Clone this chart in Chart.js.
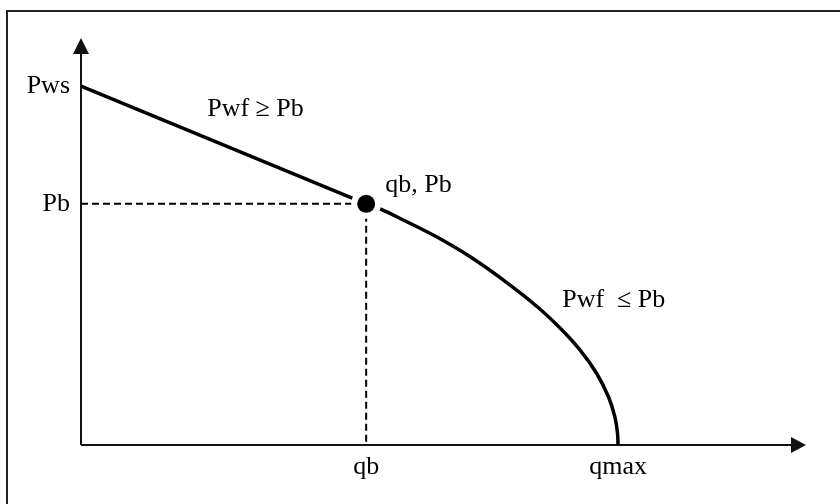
<!DOCTYPE html>
<html>
<head>
<meta charset="utf-8">
<script src="https://cdn.jsdelivr.net/npm/chart.js@4.4.1/dist/chart.umd.min.js"></script>
<style>
  html, body { margin: 0; padding: 0; background: #fff; }
  #wrap { position: relative; width: 840px; height: 504px; overflow: hidden; }
  #frame { position: absolute; left: 6px; top: 10px; width: 900px; height: 600px;
           border-left: 2px solid #222; border-top: 2px solid #222; }
  #iprChart { position: absolute; left: 0; top: 0; }
</style>
</head>
<body>
<div id="wrap">
  <div id="frame"></div>
  <canvas id="iprChart" width="840" height="504"></canvas>
</div>
<script>
// valores (q en % de qmax, presion en % de Pws)
const PWS = 100;
const PB = 67.2;
const QB = 53.1;
const QMAX = 100;

const curveQ = [QB, 55.7, 60.0, 66.2, 72.4, 78.6, 84.9, 89.2, 92.9, 96.0, 98.2, 99.4, 99.9, QMAX];
const curveP = [PB, 65.8, 62.7, 58.0, 52.5, 46.0, 38.6, 32.6, 26.5, 20.0, 13.5, 7.9, 3.3, 0];

const yTickValues = [PWS, PB];
const yTickLabels = ["Pws", "Pb"];
const xTickValues = [QB, QMAX];
const xTickLabels = ["qb", "qmax"];

const textos = ["Pwf \u2265 Pb", "qb, Pb", "Pwf  \u2264 Pb"];

const FONT = "Liberation Serif";
const FONT_SIZE = 26;

const curva = curveQ.map(function (q, i) { return { x: q, y: curveP[i] }; });

const ejesConFlechas = {
    id: "ejesConFlechas",
    afterDatasetsDraw: function (chart) {
        const ctx = chart.ctx;
        const a = chart.chartArea;
        ctx.save();
        ctx.strokeStyle = "#111";
        ctx.fillStyle = "#111";
        ctx.lineWidth = 2;
        ctx.beginPath();
        ctx.moveTo(a.left, a.bottom);
        ctx.lineTo(a.left, a.top + 12);
        ctx.moveTo(a.left, a.bottom);
        ctx.lineTo(a.right - 12, a.bottom);
        ctx.stroke();
        // flecha vertical
        ctx.beginPath();
        ctx.moveTo(a.left, a.top);
        ctx.lineTo(a.left - 8, a.top + 16);
        ctx.lineTo(a.left + 8, a.top + 16);
        ctx.closePath();
        ctx.fill();
        // flecha horizontal
        ctx.beginPath();
        ctx.moveTo(a.right, a.bottom);
        ctx.lineTo(a.right - 15, a.bottom - 8);
        ctx.lineTo(a.right - 15, a.bottom + 8);
        ctx.closePath();
        ctx.fill();

        // textos sobre el grafico
        const xs = chart.scales.x, ys = chart.scales.y;
        ctx.font = FONT_SIZE + "px '" + FONT + "'";
        ctx.textAlign = "left";
        ctx.textBaseline = "alphabetic";
        ctx.fillStyle = "#000";
        ctx.fillText(textos[0], xs.getPixelForValue(23.5), ys.getPixelForValue(91.6));
        ctx.fillText(textos[1], xs.getPixelForValue(QB) + 19, ys.getPixelForValue(PB) - 12);
        ctx.fillText(textos[2], xs.getPixelForValue(89.6), ys.getPixelForValue(38.4));
        ctx.restore();
    }
};

new Chart(document.getElementById("iprChart").getContext("2d"), {
    type: "scatter",
    data: {
        datasets: [
            {
                data: [{ x: QB, y: PB }],
                pointRadius: 9,
                pointBackgroundColor: "#000",
                pointBorderWidth: 0,
                showLine: false,
                order: 0
            },
            {
                data: [{ x: QB, y: PB }],
                pointRadius: 15,
                pointBackgroundColor: "#fff",
                pointBorderWidth: 0,
                showLine: false,
                order: 1
            },
            {
                data: [{ x: 0, y: PWS }, { x: QB, y: PB }],
                showLine: true,
                borderColor: "#000",
                borderWidth: 3.5,
                pointRadius: 0,
                order: 2
            },
            {
                data: curva,
                showLine: true,
                borderColor: "#000",
                borderWidth: 3.5,
                tension: 0.4,
                pointRadius: 0,
                order: 2
            },
            {
                data: [{ x: 0, y: PB }, { x: QB, y: PB }],
                showLine: true,
                borderColor: "#000",
                borderWidth: 2,
                borderDash: [7, 4],
                pointRadius: 0,
                order: 3
            },
            {
                data: [{ x: QB, y: PB }, { x: QB, y: 0 }],
                showLine: true,
                borderColor: "#000",
                borderWidth: 2,
                borderDash: [7, 4],
                pointRadius: 0,
                order: 3
            }
        ]
    },
    options: {
        responsive: false,
        animation: false,
        events: [],
        layout: { padding: { top: 38, right: 34, left: 0, bottom: 0 } },
        plugins: {
            legend: { display: false },
            tooltip: { enabled: false }
        },
        scales: {
            x: {
                type: "linear",
                min: 0,
                max: 135,
                grid: { display: false, drawTicks: false },
                border: { display: false },
                afterFit: function (s) { s.height = 59; },
                afterBuildTicks: function (s) {
                    s.ticks = xTickValues.map(function (v) { return { value: v }; });
                },
                ticks: {
                    padding: 7,
                    maxRotation: 0,
                    autoSkip: false,
                    color: "#000",
                    font: { family: FONT, size: FONT_SIZE },
                    callback: function (v) { return xTickLabels[xTickValues.indexOf(v)]; }
                }
            },
            y: {
                type: "linear",
                min: 0,
                max: 113.4,
                grid: { display: false, drawTicks: false },
                border: { display: false },
                afterFit: function (s) { s.width = 81; },
                afterBuildTicks: function (s) {
                    s.ticks = yTickValues.map(function (v) { return { value: v }; });
                },
                ticks: {
                    padding: 11,
                    autoSkip: false,
                    color: "#000",
                    font: { family: FONT, size: FONT_SIZE },
                    callback: function (v) { return yTickLabels[yTickValues.indexOf(v)]; }
                }
            }
        }
    },
    plugins: [ejesConFlechas]
});
</script>
</body>
</html>
